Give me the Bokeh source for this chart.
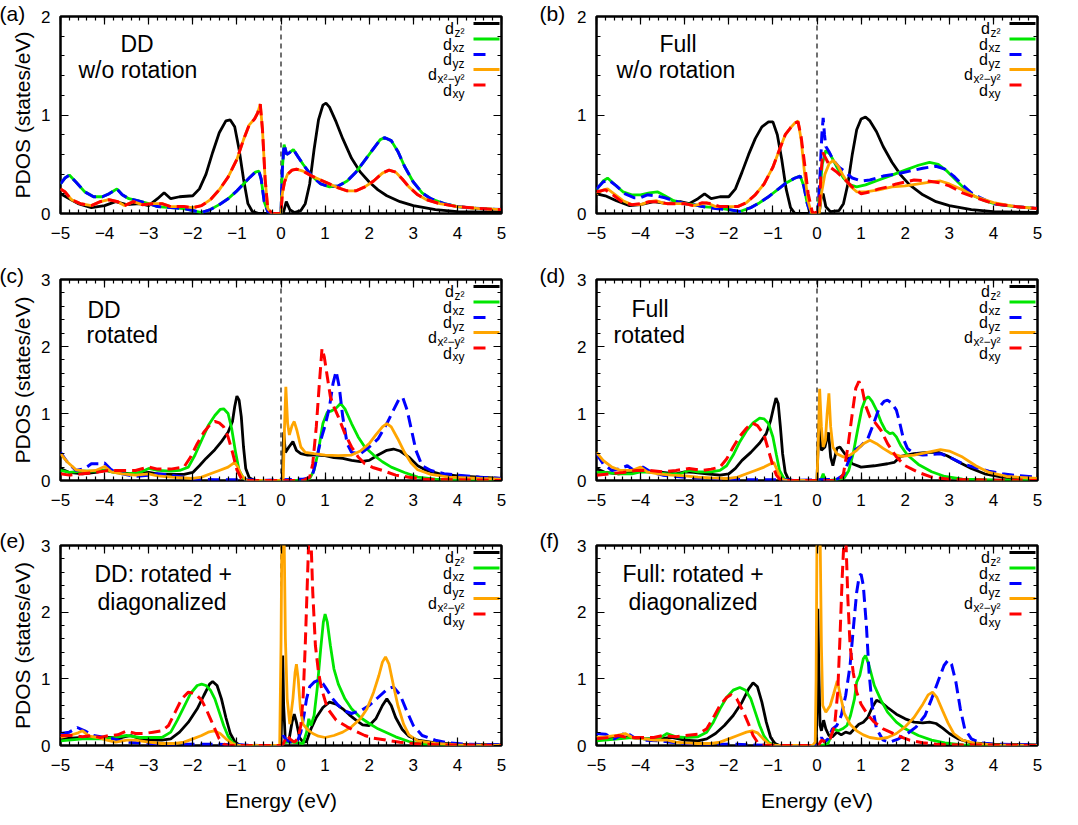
from bokeh.plotting import figure
from bokeh.layouts import column, row
from bokeh.models import FixedTicker, LinearAxis, Span, Label, Range1d
from bokeh.embed import file_html
from bokeh.resources import INLINE

FONT = "Liberation Sans"

# ---------------- data: (energy eV, PDOS states/eV) ----------------
# (a) DD, w/o rotation
a_z2 = [(-5,0.2),(-4.8,0.15),(-4.6,0.1),(-4.3,0.06),(-4.0,0.08),(-3.75,0.12),(-3.5,0.09),(-3.2,0.1),(-3.0,0.08),(-2.8,0.15),(-2.65,0.21),(-2.5,0.15),(-2.3,0.17),(-2.0,0.18),(-1.85,0.25),(-1.7,0.4),(-1.55,0.62),(-1.4,0.82),(-1.25,0.94),(-1.15,0.95),(-1.05,0.88),(-0.95,0.65),(-0.85,0.35),(-0.75,0.1),(-0.65,0.02),(-0.5,0.0),(0.05,0.0),(0.12,0.12),(0.2,0.04),(0.3,0.01),(0.45,0.03),(0.55,0.1),(0.65,0.3),(0.75,0.65),(0.85,0.95),(0.95,1.1),(1.02,1.12),(1.1,1.08),(1.25,0.93),(1.4,0.76),(1.6,0.56),(1.8,0.42),(2.0,0.32),(2.2,0.24),(2.4,0.18),(2.7,0.12),(3.0,0.08),(3.5,0.04),(4.0,0.02),(5.0,0.01)]
a_xz = [(-5,0.3),(-4.9,0.36),(-4.8,0.39),(-4.65,0.32),(-4.45,0.22),(-4.25,0.17),(-4.05,0.17),(-3.9,0.2),(-3.72,0.25),(-3.6,0.19),(-3.45,0.15),(-3.25,0.13),(-3.0,0.1),(-2.8,0.07),(-2.5,0.06),(-2.2,0.05),(-2.0,0.03),(-1.8,0.01),(-1.6,0.04),(-1.4,0.09),(-1.2,0.15),(-1.0,0.23),(-0.85,0.3),(-0.7,0.37),(-0.58,0.42),(-0.5,0.43),(-0.45,0.35),(-0.38,0.12),(-0.3,0.02),(-0.2,0.0),(0.0,0.0),(0.03,0.45),(0.07,0.7),(0.13,0.6),(0.2,0.62),(0.28,0.65),(0.38,0.58),(0.5,0.5),(0.7,0.38),(0.9,0.3),(1.1,0.27),(1.3,0.28),(1.5,0.33),(1.7,0.42),(1.9,0.54),(2.1,0.66),(2.25,0.75),(2.35,0.77),(2.5,0.74),(2.65,0.63),(2.8,0.48),(3.0,0.32),(3.2,0.21),(3.4,0.15),(3.7,0.1),(4.0,0.07),(4.5,0.05),(5.0,0.04)]
a_yz = list(a_xz)
a_x2 = [(-5,0.25),(-4.9,0.22),(-4.75,0.14),(-4.55,0.1),(-4.3,0.08),(-4.1,0.12),(-3.9,0.14),(-3.7,0.12),(-3.55,0.08),(-3.35,0.12),(-3.15,0.09),(-2.9,0.1),(-2.7,0.1),(-2.5,0.07),(-2.2,0.07),(-2.0,0.06),(-1.8,0.08),(-1.6,0.14),(-1.4,0.24),(-1.2,0.37),(-1.0,0.55),(-0.85,0.75),(-0.72,0.9),(-0.6,0.96),(-0.53,1.02),(-0.47,1.11),(-0.42,0.85),(-0.36,0.35),(-0.3,0.05),(-0.2,0.0),(0.0,0.0),(0.03,0.2),(0.08,0.32),(0.15,0.4),(0.25,0.44),(0.35,0.45),(0.5,0.43),(0.7,0.38),(0.9,0.34),(1.1,0.3),(1.3,0.26),(1.5,0.23),(1.7,0.23),(1.9,0.27),(2.1,0.33),(2.3,0.41),(2.45,0.44),(2.6,0.42),(2.75,0.35),(2.9,0.27),(3.1,0.19),(3.3,0.14),(3.6,0.1),(4.0,0.07),(4.5,0.05),(5.0,0.04)]
a_xy = list(a_x2)

# (b) Full, w/o rotation
b_z2 = [(-5,0.2),(-4.8,0.18),(-4.55,0.13),(-4.25,0.08),(-4.0,0.09),(-3.7,0.12),(-3.4,0.1),(-3.1,0.12),(-2.9,0.1),(-2.7,0.15),(-2.55,0.2),(-2.4,0.15),(-2.2,0.17),(-2.0,0.17),(-1.85,0.25),(-1.7,0.42),(-1.55,0.6),(-1.4,0.76),(-1.25,0.88),(-1.1,0.93),(-1.0,0.93),(-0.9,0.8),(-0.8,0.55),(-0.7,0.25),(-0.6,0.06),(-0.5,0.0),(0.05,0.0),(0.1,0.18),(0.14,0.2),(0.2,0.07),(0.3,0.02),(0.5,0.03),(0.6,0.1),(0.7,0.3),(0.8,0.6),(0.9,0.85),(1.0,0.96),(1.1,0.98),(1.2,0.94),(1.35,0.83),(1.5,0.68),(1.7,0.52),(1.9,0.39),(2.1,0.29),(2.4,0.19),(2.7,0.12),(3.0,0.08),(3.5,0.04),(4.0,0.02),(5.0,0.01)]
b_xz = [(-5,0.24),(-4.85,0.33),(-4.75,0.36),(-4.6,0.3),(-4.4,0.22),(-4.2,0.19),(-4.0,0.19),(-3.8,0.21),(-3.62,0.22),(-3.45,0.18),(-3.25,0.13),(-3.0,0.1),(-2.8,0.09),(-2.6,0.07),(-2.3,0.06),(-2.0,0.04),(-1.75,0.02),(-1.5,0.06),(-1.3,0.11),(-1.1,0.17),(-0.9,0.24),(-0.7,0.31),(-0.5,0.36),(-0.38,0.38),(-0.3,0.28),(-0.22,0.1),(-0.15,0.0),(0.02,0.0),(0.07,0.25),(0.12,0.5),(0.2,0.64),(0.3,0.6),(0.45,0.47),(0.6,0.36),(0.75,0.29),(0.9,0.27),(1.1,0.29),(1.4,0.34),(1.7,0.39),(2.0,0.44),(2.3,0.49),(2.55,0.52),(2.75,0.5),(2.95,0.43),(3.15,0.34),(3.35,0.25),(3.55,0.18),(3.8,0.13),(4.1,0.09),(4.5,0.07),(5.0,0.05)]
b_yz = [(-5,0.25),(-4.85,0.32),(-4.72,0.34),(-4.55,0.28),(-4.35,0.2),(-4.15,0.16),(-4.0,0.16),(-3.85,0.19),(-3.65,0.18),(-3.45,0.16),(-3.25,0.13),(-3.0,0.1),(-2.8,0.09),(-2.6,0.07),(-2.3,0.05),(-2.0,0.04),(-1.75,0.02),(-1.5,0.06),(-1.3,0.11),(-1.1,0.17),(-0.9,0.24),(-0.7,0.31),(-0.5,0.36),(-0.38,0.38),(-0.3,0.28),(-0.22,0.1),(-0.15,0.0),(0.02,0.0),(0.07,0.4),(0.11,0.8),(0.14,0.97),(0.17,0.8),(0.2,0.68),(0.27,0.63),(0.37,0.54),(0.5,0.47),(0.65,0.42),(0.8,0.36),(1.0,0.33),(1.2,0.34),(1.5,0.38),(1.8,0.4),(2.1,0.43),(2.4,0.46),(2.7,0.48),(2.9,0.45),(3.1,0.38),(3.3,0.29),(3.5,0.21),(3.7,0.16),(4.0,0.1),(4.5,0.07),(5.0,0.05)]
b_x2 = [(-5,0.2),(-4.85,0.24),(-4.75,0.25),(-4.6,0.2),(-4.4,0.13),(-4.2,0.09),(-4.0,0.09),(-3.8,0.12),(-3.65,0.13),(-3.45,0.1),(-3.2,0.1),(-3.0,0.1),(-2.8,0.08),(-2.6,0.1),(-2.5,0.11),(-2.3,0.07),(-2.0,0.07),(-1.8,0.07),(-1.6,0.11),(-1.4,0.19),(-1.2,0.3),(-1.0,0.47),(-0.85,0.65),(-0.72,0.8),(-0.6,0.87),(-0.5,0.92),(-0.43,0.94),(-0.36,0.75),(-0.28,0.4),(-0.2,0.12),(-0.12,0.0),(0.05,0.0),(0.1,0.2),(0.18,0.4),(0.28,0.51),(0.37,0.54),(0.48,0.48),(0.6,0.38),(0.75,0.28),(0.9,0.22),(1.1,0.22),(1.4,0.24),(1.7,0.27),(2.0,0.28),(2.3,0.3),(2.6,0.32),(2.8,0.33),(3.0,0.3),(3.3,0.24),(3.6,0.17),(4.0,0.11),(4.5,0.07),(5.0,0.05)]
b_xy = [(-5,0.22),(-4.8,0.24),(-4.6,0.18),(-4.4,0.11),(-4.2,0.09),(-4.0,0.1),(-3.8,0.12),(-3.6,0.12),(-3.4,0.1),(-3.2,0.1),(-3.0,0.1),(-2.8,0.08),(-2.6,0.11),(-2.4,0.1),(-2.2,0.07),(-2.0,0.07),(-1.8,0.07),(-1.6,0.11),(-1.4,0.19),(-1.2,0.3),(-1.0,0.47),(-0.85,0.65),(-0.72,0.8),(-0.6,0.87),(-0.5,0.92),(-0.43,0.93),(-0.36,0.78),(-0.28,0.5),(-0.2,0.2),(-0.1,0.0),(0.05,0.02),(0.09,0.4),(0.13,0.62),(0.2,0.56),(0.3,0.47),(0.45,0.42),(0.6,0.36),(0.8,0.27),(1.0,0.2),(1.2,0.22),(1.4,0.25),(1.6,0.27),(1.8,0.3),(2.0,0.32),(2.2,0.34),(2.5,0.33),(2.8,0.31),(3.0,0.28),(3.3,0.21),(3.6,0.16),(4.0,0.1),(4.5,0.07),(5.0,0.05)]

# (c) DD, rotated
c_z2 = [(-5,0.18),(-4.8,0.12),(-4.5,0.1),(-4.2,0.12),(-4.0,0.15),(-3.7,0.12),(-3.4,0.1),(-3.0,0.12),(-2.8,0.1),(-2.5,0.09),(-2.2,0.09),(-2.0,0.12),(-1.85,0.22),(-1.7,0.33),(-1.5,0.46),(-1.35,0.58),(-1.2,0.72),(-1.1,0.88),(-1.05,1.1),(-1.0,1.26),(-0.95,1.2),(-0.9,0.95),(-0.85,0.5),(-0.8,0.18),(-0.72,0.04),(-0.6,0.0),(0.03,0.0),(0.06,0.72),(0.1,0.42),(0.18,0.5),(0.27,0.58),(0.35,0.45),(0.45,0.4),(0.6,0.38),(0.8,0.38),(1.0,0.37),(1.2,0.34),(1.4,0.33),(1.6,0.3),(1.8,0.28),(2.0,0.3),(2.2,0.38),(2.4,0.45),(2.55,0.47),(2.7,0.44),(2.9,0.35),(3.1,0.22),(3.3,0.15),(3.6,0.1),(4.0,0.07),(4.5,0.05),(5.0,0.03)]
c_xz = [(-5,0.15),(-4.8,0.12),(-4.5,0.14),(-4.2,0.14),(-4.0,0.16),(-3.8,0.12),(-3.5,0.1),(-3.2,0.12),(-3.0,0.18),(-2.8,0.15),(-2.5,0.14),(-2.3,0.15),(-2.1,0.2),(-1.95,0.38),(-1.8,0.6),(-1.65,0.82),(-1.5,0.97),(-1.38,1.06),(-1.3,1.07),(-1.2,1.0),(-1.12,0.78),(-1.03,0.42),(-0.95,0.15),(-0.85,0.03),(-0.75,0.0),(0.55,0.0),(0.65,0.03),(0.75,0.15),(0.85,0.45),(0.95,0.85),(1.05,1.02),(1.15,1.04),(1.25,1.08),(1.35,1.15),(1.45,1.07),(1.6,0.85),(1.75,0.65),(1.9,0.5),(2.1,0.38),(2.3,0.28),(2.5,0.2),(2.8,0.12),(3.1,0.05),(3.5,0.02),(4.0,0.01),(5.0,0.0)]
c_yz = [(-5,0.42),(-4.85,0.28),(-4.65,0.15),(-4.45,0.18),(-4.3,0.25),(-4.1,0.25),(-4.0,0.26),(-3.85,0.16),(-3.6,0.1),(-3.3,0.06),(-3.0,0.08),(-2.8,0.1),(-2.5,0.08),(-2.2,0.05),(-2.0,0.02),(-1.5,0.01),(-0.7,0.01),(-0.5,0.0),(0.5,0.02),(0.7,0.05),(0.8,0.3),(0.9,0.6),(1.0,0.82),(1.1,1.1),(1.18,1.45),(1.25,1.63),(1.32,1.4),(1.4,0.95),(1.5,0.55),(1.6,0.42),(1.8,0.4),(2.0,0.5),(2.2,0.62),(2.4,0.85),(2.55,1.05),(2.68,1.22),(2.76,1.24),(2.86,1.05),(2.96,0.75),(3.06,0.45),(3.2,0.22),(3.4,0.15),(3.7,0.1),(4.0,0.08),(4.5,0.05),(5.0,0.03)]
c_x2 = [(-5,0.4),(-4.85,0.28),(-4.65,0.16),(-4.4,0.14),(-4.2,0.15),(-4.0,0.21),(-3.85,0.13),(-3.6,0.1),(-3.3,0.08),(-3.0,0.1),(-2.8,0.07),(-2.5,0.05),(-2.2,0.04),(-2.0,0.03),(-1.8,0.05),(-1.6,0.1),(-1.4,0.15),(-1.2,0.2),(-1.05,0.27),(-0.98,0.2),(-0.9,0.08),(-0.8,0.01),(-0.7,0.0),(0.05,0.0),(0.08,0.8),(0.11,1.4),(0.15,0.85),(0.19,0.68),(0.25,0.82),(0.3,0.88),(0.36,0.75),(0.45,0.5),(0.55,0.42),(0.75,0.4),(1.0,0.38),(1.3,0.37),(1.6,0.38),(1.8,0.44),(2.0,0.55),(2.15,0.68),(2.3,0.8),(2.4,0.85),(2.5,0.8),(2.65,0.62),(2.8,0.42),(2.95,0.26),(3.1,0.16),(3.4,0.09),(3.8,0.05),(4.5,0.03),(5.0,0.02)]
c_xy = [(-5,0.1),(-4.8,0.08),(-4.5,0.1),(-4.2,0.12),(-3.9,0.15),(-3.6,0.15),(-3.3,0.15),(-3.0,0.2),(-2.8,0.17),(-2.5,0.17),(-2.2,0.2),(-2.05,0.35),(-1.9,0.55),(-1.75,0.72),(-1.6,0.84),(-1.5,0.88),(-1.4,0.86),(-1.3,0.8),(-1.2,0.65),(-1.1,0.42),(-1.0,0.16),(-0.9,0.03),(-0.8,0.0),(0.5,0.0),(0.65,0.05),(0.72,0.25),(0.8,0.8),(0.87,1.45),(0.93,1.97),(0.98,1.85),(1.05,1.55),(1.12,1.25),(1.2,1.1),(1.3,0.95),(1.45,0.7),(1.6,0.5),(1.75,0.35),(1.9,0.25),(2.1,0.19),(2.3,0.15),(2.6,0.08),(2.9,0.05),(3.2,0.02),(4.0,0.01),(5.0,0.0)]

# (d) Full, rotated
d_z2 = [(-5,0.18),(-4.8,0.12),(-4.5,0.1),(-4.2,0.12),(-4.0,0.15),(-3.8,0.13),(-3.5,0.12),(-3.2,0.1),(-3.0,0.13),(-2.8,0.12),(-2.5,0.1),(-2.2,0.08),(-2.0,0.1),(-1.85,0.18),(-1.7,0.3),(-1.5,0.42),(-1.3,0.56),(-1.15,0.7),(-1.05,0.9),(-0.98,1.1),(-0.93,1.23),(-0.88,1.15),(-0.83,0.8),(-0.78,0.4),(-0.72,0.12),(-0.65,0.02),(-0.55,0.0),(0.0,0.0),(0.04,0.85),(0.1,0.45),(0.18,0.5),(0.26,0.72),(0.31,0.35),(0.36,0.22),(0.45,0.48),(0.52,0.5),(0.65,0.38),(0.8,0.25),(1.0,0.2),(1.3,0.22),(1.6,0.25),(1.75,0.27),(1.9,0.36),(2.2,0.4),(2.5,0.42),(2.75,0.42),(2.95,0.37),(3.2,0.28),(3.5,0.18),(3.8,0.1),(4.2,0.05),(4.6,0.03),(5.0,0.02)]
d_xz = [(-5,0.12),(-4.8,0.12),(-4.5,0.1),(-4.2,0.1),(-4.0,0.13),(-3.7,0.12),(-3.4,0.1),(-3.1,0.1),(-2.9,0.15),(-2.7,0.13),(-2.4,0.13),(-2.2,0.15),(-2.05,0.22),(-1.9,0.38),(-1.75,0.58),(-1.6,0.74),(-1.45,0.86),(-1.3,0.93),(-1.2,0.92),(-1.1,0.85),(-1.0,0.65),(-0.92,0.38),(-0.85,0.15),(-0.75,0.03),(-0.65,0.0),(0.05,0.0),(0.1,0.03),(0.14,0.1),(0.18,0.02),(0.3,0.0),(0.5,0.02),(0.62,0.04),(0.72,0.15),(0.82,0.4),(0.92,0.75),(1.02,1.08),(1.1,1.22),(1.17,1.25),(1.25,1.18),(1.35,1.05),(1.45,0.88),(1.55,0.75),(1.65,0.7),(1.72,0.71),(1.8,0.65),(1.9,0.52),(2.05,0.38),(2.3,0.24),(2.6,0.13),(2.9,0.06),(3.3,0.02),(4.0,0.01),(5.0,0.0)]
d_yz = [(-5,0.4),(-4.85,0.25),(-4.65,0.15),(-4.45,0.18),(-4.3,0.22),(-4.15,0.15),(-3.95,0.2),(-3.75,0.12),(-3.5,0.08),(-3.0,0.05),(-2.5,0.03),(-2.0,0.02),(-1.5,0.01),(-0.7,0.01),(-0.5,0.0),(0.45,0.02),(0.6,0.08),(0.72,0.3),(0.85,0.45),(1.0,0.52),(1.15,0.62),(1.3,0.88),(1.42,1.1),(1.52,1.18),(1.6,1.2),(1.7,1.15),(1.8,1.05),(1.88,0.85),(1.96,0.62),(2.05,0.48),(2.2,0.4),(2.4,0.38),(2.6,0.39),(2.8,0.4),(3.0,0.35),(3.3,0.25),(3.6,0.19),(3.9,0.14),(4.2,0.1),(4.6,0.07),(5.0,0.05)]
d_x2 = [(-5,0.42),(-4.85,0.3),(-4.65,0.2),(-4.45,0.15),(-4.2,0.15),(-4.0,0.2),(-3.85,0.13),(-3.6,0.1),(-3.3,0.08),(-3.0,0.07),(-2.7,0.05),(-2.4,0.04),(-2.0,0.03),(-1.8,0.05),(-1.6,0.1),(-1.4,0.15),(-1.2,0.2),(-1.05,0.25),(-0.98,0.27),(-0.9,0.15),(-0.82,0.03),(-0.7,0.0),(0.0,0.0),(0.03,0.6),(0.06,1.37),(0.1,0.8),(0.14,0.5),(0.19,0.6),(0.23,1.0),(0.27,1.3),(0.31,0.8),(0.36,0.5),(0.45,0.4),(0.6,0.35),(0.75,0.38),(0.9,0.45),(1.05,0.55),(1.2,0.6),(1.35,0.55),(1.5,0.48),(1.7,0.4),(1.9,0.36),(2.2,0.38),(2.5,0.42),(2.8,0.46),(3.0,0.44),(3.3,0.35),(3.6,0.22),(3.9,0.12),(4.3,0.06),(5.0,0.03)]
d_xy = [(-5,0.08),(-4.7,0.1),(-4.4,0.12),(-4.1,0.15),(-3.8,0.15),(-3.5,0.13),(-3.2,0.15),(-2.9,0.18),(-2.6,0.15),(-2.4,0.17),(-2.2,0.2),(-2.05,0.32),(-1.9,0.5),(-1.75,0.66),(-1.6,0.78),(-1.47,0.86),(-1.35,0.82),(-1.2,0.68),(-1.1,0.45),(-1.0,0.22),(-0.92,0.08),(-0.85,0.02),(-0.7,0.0),(0.5,0.0),(0.6,0.1),(0.7,0.5),(0.8,1.0),(0.88,1.38),(0.95,1.48),(1.02,1.38),(1.1,1.12),(1.2,0.95),(1.3,0.88),(1.45,0.75),(1.6,0.55),(1.8,0.35),(2.0,0.22),(2.3,0.12),(2.6,0.05),(3.0,0.02),(3.5,0.01),(5.0,0.0)]

# (e) DD, rotated + diagonalized
e_z2 = [(-5,0.1),(-4.5,0.12),(-4.0,0.12),(-3.6,0.12),(-3.4,0.15),(-3.2,0.1),(-3.0,0.08),(-2.7,0.08),(-2.5,0.1),(-2.3,0.2),(-2.1,0.35),(-1.9,0.55),(-1.75,0.75),(-1.62,0.92),(-1.55,0.96),(-1.45,0.9),(-1.35,0.7),(-1.25,0.42),(-1.15,0.18),(-1.05,0.06),(-0.95,0.01),(-0.85,0.0),(0.0,0.0),(0.02,0.6),(0.04,1.35),(0.06,0.6),(0.1,0.05),(0.18,0.08),(0.25,0.35),(0.3,0.47),(0.35,0.35),(0.42,0.12),(0.5,0.05),(0.58,0.06),(0.68,0.25),(0.8,0.42),(0.95,0.57),(1.1,0.65),(1.25,0.62),(1.4,0.55),(1.55,0.46),(1.7,0.38),(1.85,0.31),(2.0,0.3),(2.15,0.4),(2.3,0.6),(2.4,0.7),(2.5,0.6),(2.6,0.42),(2.75,0.24),(2.9,0.14),(3.1,0.08),(3.5,0.04),(4.0,0.02),(5.0,0.01)]
e_xz = [(-5,0.07),(-4.5,0.1),(-4.0,0.1),(-3.5,0.15),(-3.2,0.12),(-3.0,0.12),(-2.7,0.12),(-2.5,0.2),(-2.35,0.38),(-2.2,0.58),(-2.05,0.78),(-1.9,0.9),(-1.8,0.92),(-1.7,0.9),(-1.6,0.83),(-1.5,0.7),(-1.4,0.5),(-1.3,0.3),(-1.2,0.14),(-1.1,0.05),(-1.0,0.01),(-0.9,0.0),(0.0,0.0),(0.1,0.05),(0.25,0.05),(0.4,0.04),(0.5,0.03),(0.58,0.2),(0.63,0.4),(0.68,0.3),(0.75,0.45),(0.82,0.85),(0.9,1.45),(0.96,1.85),(1.0,1.97),(1.05,1.85),(1.12,1.5),(1.2,1.15),(1.3,0.92),(1.45,0.7),(1.6,0.55),(1.8,0.42),(2.0,0.33),(2.2,0.25),(2.4,0.19),(2.6,0.13),(2.9,0.06),(3.2,0.02),(3.6,0.01),(5.0,0.0)]
e_yz = [(-5,0.18),(-4.8,0.2),(-4.62,0.27),(-4.45,0.22),(-4.25,0.15),(-4.0,0.12),(-3.8,0.1),(-3.5,0.05),(-3.0,0.03),(-2.5,0.02),(-2.0,0.02),(-1.5,0.02),(-1.0,0.01),(-0.5,0.0),(0.0,0.0),(0.05,0.15),(0.1,0.1),(0.2,0.05),(0.38,0.08),(0.45,0.2),(0.52,0.45),(0.58,0.7),(0.65,0.88),(0.75,0.95),(0.85,0.98),(0.95,0.93),(1.05,0.83),(1.15,0.72),(1.3,0.6),(1.45,0.52),(1.6,0.48),(1.8,0.52),(2.0,0.6),(2.2,0.72),(2.4,0.84),(2.55,0.88),(2.7,0.76),(2.85,0.52),(3.0,0.3),(3.2,0.15),(3.5,0.08),(3.8,0.04),(4.2,0.02),(5.0,0.01)]
e_x2 = [(-5,0.12),(-4.8,0.15),(-4.6,0.19),(-4.5,0.22),(-4.35,0.14),(-4.15,0.12),(-3.95,0.08),(-3.75,0.05),(-3.5,0.08),(-3.3,0.08),(-3.0,0.05),(-2.7,0.03),(-2.4,0.03),(-2.2,0.05),(-2.0,0.1),(-1.8,0.15),(-1.65,0.2),(-1.52,0.22),(-1.38,0.18),(-1.25,0.1),(-1.1,0.03),(-0.95,0.0),(-0.03,0.0),(0.0,1.5),(0.02,3.2),(0.07,3.2),(0.1,1.6),(0.14,0.7),(0.2,0.32),(0.27,0.7),(0.32,1.1),(0.35,1.22),(0.39,1.0),(0.44,0.55),(0.5,0.32),(0.6,0.24),(0.72,0.18),(0.85,0.14),(1.0,0.12),(1.2,0.15),(1.4,0.2),(1.6,0.28),(1.8,0.4),(1.95,0.55),(2.1,0.8),(2.22,1.05),(2.3,1.25),(2.37,1.33),(2.45,1.22),(2.55,0.9),(2.65,0.6),(2.78,0.32),(2.9,0.16),(3.1,0.07),(3.5,0.03),(4.0,0.01),(5.0,0.0)]
e_xy = [(-5,0.15),(-4.7,0.15),(-4.5,0.13),(-4.3,0.15),(-4.1,0.12),(-3.9,0.15),(-3.7,0.16),(-3.5,0.22),(-3.3,0.18),(-3.1,0.18),(-2.9,0.2),(-2.7,0.22),(-2.55,0.3),(-2.4,0.5),(-2.25,0.7),(-2.1,0.8),(-1.95,0.78),(-1.8,0.68),(-1.7,0.55),(-1.6,0.4),(-1.5,0.25),(-1.4,0.1),(-1.3,0.02),(-1.2,0.0),(0.0,0.0),(0.05,0.02),(0.1,0.1),(0.15,0.15),(0.2,0.1),(0.3,0.05),(0.38,0.1),(0.45,0.3),(0.5,0.7),(0.55,1.5),(0.6,2.5),(0.64,3.3),(0.68,3.1),(0.72,2.3),(0.78,1.5),(0.85,1.1),(0.92,0.85),(1.05,0.56),(1.25,0.38),(1.5,0.28),(1.7,0.21),(1.9,0.15),(2.1,0.11),(2.4,0.08),(2.7,0.05),(3.0,0.03),(3.5,0.01),(5.0,0.0)]

# (f) Full, rotated + diagonalized
f_z2 = [(-5,0.1),(-4.5,0.12),(-4.2,0.12),(-3.9,0.1),(-3.6,0.1),(-3.3,0.12),(-3.0,0.08),(-2.7,0.07),(-2.5,0.1),(-2.3,0.18),(-2.1,0.3),(-1.9,0.45),(-1.7,0.65),(-1.55,0.85),(-1.45,0.94),(-1.35,0.88),(-1.25,0.65),(-1.15,0.35),(-1.05,0.12),(-0.95,0.03),(-0.85,0.0),(-0.02,0.0),(0.0,0.5),(0.02,2.05),(0.04,1.2),(0.07,0.3),(0.1,0.22),(0.15,0.38),(0.2,0.25),(0.27,0.15),(0.35,0.13),(0.45,0.2),(0.55,0.16),(0.65,0.2),(0.75,0.18),(0.85,0.25),(0.95,0.32),(1.05,0.35),(1.15,0.42),(1.25,0.57),(1.35,0.68),(1.45,0.65),(1.6,0.57),(1.8,0.47),(2.0,0.4),(2.2,0.35),(2.4,0.34),(2.55,0.35),(2.7,0.33),(2.85,0.26),(3.0,0.18),(3.2,0.1),(3.5,0.04),(4.0,0.02),(5.0,0.01)]
f_xz = [(-5,0.07),(-4.5,0.1),(-4.2,0.12),(-3.9,0.1),(-3.6,0.1),(-3.4,0.18),(-3.2,0.13),(-3.0,0.12),(-2.7,0.13),(-2.5,0.2),(-2.35,0.35),(-2.2,0.55),(-2.05,0.72),(-1.9,0.83),(-1.75,0.87),(-1.62,0.83),(-1.5,0.7),(-1.4,0.5),(-1.3,0.3),(-1.2,0.14),(-1.1,0.05),(-1.0,0.01),(-0.9,0.0),(0.1,0.0),(0.25,0.03),(0.32,0.15),(0.38,0.25),(0.48,0.22),(0.58,0.25),(0.68,0.3),(0.76,0.45),(0.85,0.7),(0.9,0.95),(0.97,1.05),(1.05,1.3),(1.1,1.35),(1.18,1.2),(1.3,0.9),(1.45,0.68),(1.6,0.5),(1.8,0.35),(2.0,0.25),(2.3,0.15),(2.6,0.08),(2.9,0.04),(3.3,0.01),(5.0,0.0)]
f_yz = [(-5,0.18),(-4.8,0.17),(-4.6,0.1),(-4.45,0.15),(-4.33,0.2),(-4.15,0.12),(-3.9,0.08),(-3.6,0.07),(-3.3,0.05),(-3.0,0.03),(-2.5,0.02),(-2.0,0.02),(-1.5,0.01),(-1.0,0.0),(0.0,0.0),(0.05,0.05),(0.1,0.12),(0.17,0.05),(0.25,0.1),(0.35,0.25),(0.45,0.3),(0.55,0.45),(0.65,0.75),(0.75,1.2),(0.83,1.8),(0.9,2.3),(0.96,2.55),(1.0,2.57),(1.05,2.4),(1.12,1.8),(1.18,1.1),(1.25,0.6),(1.35,0.25),(1.5,0.08),(1.65,0.05),(1.85,0.1),(2.05,0.18),(2.25,0.28),(2.45,0.45),(2.6,0.7),(2.75,0.97),(2.88,1.2),(2.97,1.28),(3.05,1.22),(3.15,0.95),(3.25,0.55),(3.35,0.25),(3.5,0.1),(3.7,0.04),(4.0,0.02),(5.0,0.01)]
f_x2 = [(-5,0.12),(-4.8,0.13),(-4.55,0.15),(-4.35,0.18),(-4.15,0.11),(-3.9,0.1),(-3.7,0.08),(-3.4,0.08),(-3.2,0.05),(-3.0,0.04),(-2.7,0.03),(-2.4,0.03),(-2.2,0.05),(-2.0,0.1),(-1.8,0.15),(-1.6,0.2),(-1.47,0.22),(-1.35,0.19),(-1.22,0.1),(-1.1,0.03),(-0.95,0.0),(-0.1,0.0),(-0.04,0.05),(-0.02,1.0),(0.0,3.2),(0.07,3.2),(0.1,1.5),(0.13,0.6),(0.2,0.5),(0.3,0.6),(0.38,0.78),(0.46,0.97),(0.53,0.75),(0.62,0.48),(0.75,0.32),(0.9,0.22),(1.05,0.16),(1.2,0.12),(1.4,0.1),(1.6,0.12),(1.8,0.18),(2.0,0.28),(2.2,0.42),(2.4,0.62),(2.52,0.76),(2.62,0.8),(2.72,0.72),(2.85,0.52),(2.97,0.34),(3.1,0.18),(3.3,0.08),(3.6,0.03),(4.0,0.01),(5.0,0.0)]
f_xy = [(-5,0.1),(-4.7,0.12),(-4.5,0.15),(-4.3,0.12),(-4.0,0.12),(-3.7,0.12),(-3.5,0.15),(-3.2,0.13),(-3.0,0.15),(-2.7,0.17),(-2.5,0.25),(-2.35,0.42),(-2.2,0.6),(-2.05,0.72),(-1.95,0.76),(-1.82,0.7),(-1.68,0.52),(-1.55,0.32),(-1.45,0.15),(-1.35,0.05),(-1.25,0.01),(-1.15,0.0),(0.0,0.0),(0.05,0.02),(0.1,0.08),(0.2,0.05),(0.3,0.1),(0.4,0.3),(0.47,0.8),(0.52,1.6),(0.57,2.5),(0.62,3.2),(0.66,3.0),(0.7,2.2),(0.75,1.5),(0.82,1.1),(0.9,0.8),(1.0,0.62),(1.15,0.46),(1.3,0.35),(1.5,0.25),(1.7,0.19),(1.9,0.13),(2.1,0.08),(2.4,0.04),(2.7,0.02),(3.0,0.01),(5.0,0.0)]

# labels
X_TICKS = [-5, -4, -3, -2, -1, 0, 1, 2, 3, 4, 5]
ORBITAL_SUBS = ["z\u00b2", "xz", "yz", "x\u00b2\u2212y\u00b2", "xy"]
ORBITAL_COLORS = ["#000000", "#00e600", "#0000ff", "#ffa500", "#ff0000"]
ORBITAL_DASH = [None, None, "12 6", None, "12 6"]
X_LABEL = "Energy (eV)"
Y_LABEL = "PDOS (states/eV)"

PANELS = [
    ("(a)", [a_z2, a_xz, a_yz, a_x2, a_xy], 2, [("DD", 60, 27), ("w/o rotation", 18, 53)]),
    ("(b)", [b_z2, b_xz, b_yz, b_x2, b_xy], 2, [("Full", 63, 27), ("w/o rotation", 20, 53)]),
    ("(c)", [c_z2, c_xz, c_yz, c_x2, c_xy], 3, [("DD", 27, 30), ("rotated", 26, 55)]),
    ("(d)", [d_z2, d_xz, d_yz, d_x2, d_xy], 3, [("Full", 35, 29), ("rotated", 17, 55)]),
    ("(e)", [e_z2, e_xz, e_yz, e_x2, e_xy], 3, [("DD: rotated +", 34, 28), ("diagonalized", 37, 56)]),
    ("(f)", [f_z2, f_xz, f_yz, f_x2, f_xy], 3, [("Full: rotated +", 26, 28), ("diagonalized", 32, 56)]),
]

# ---------------- layout constants ----------------
FW = 441
FH = [197, 201, 200]
ROW_TOP = [16, 30, 29]
ROW_BOT = [36, 36, 74]
COL_LEFT = [60, 65]
COL_RIGHT = [30, 20]
TAG_DX = [-61, -57]
TAG_DY = [-3, -4, -5]
# side panel that carries the panel tag (a side panel with spare room, so the frame does not move)
TAG_SIDE = [["right", "left"], ["above", "above"], ["above", "above"]]
LEG_Y = [7, 22.5, 38, 53, 68.5]
SUB_PX = 12
EM = {"x": 0.5, "y": 0.5, "z": 0.5, "\u00b2": 0.333, "\u2212": 0.584}


def style_axis(ax, show_labels=True):
    ax.axis_line_color = None
    ax.major_tick_in = 8
    ax.major_tick_out = 0
    ax.minor_tick_in = 4
    ax.minor_tick_out = 0
    ax.major_tick_line_width = 1.2
    ax.minor_tick_line_width = 1.2
    ax.major_tick_line_color = "black"
    ax.minor_tick_line_color = "black"
    ax.major_label_text_font = FONT
    if show_labels:
        ax.major_label_text_color = "black"
        ax.major_label_text_font_size = "17px"
        ax.major_label_standoff = 10
    else:
        ax.major_label_text_color = None
        ax.major_label_text_font_size = "1px"
        ax.major_label_standoff = 0
    ax.axis_label_text_font = FONT
    ax.axis_label_text_font_size = "21px"
    ax.axis_label_text_font_style = "normal"
    ax.axis_label_text_color = "black"


def make_panel(idx):
    tag, curves, ymax, notes = PANELS[idx]
    r, c = idx // 2, idx % 2
    fh = FH[r]
    p = figure(frame_width=FW, frame_height=fh,
               x_range=Range1d(-5, 5), y_range=Range1d(0, ymax),
               output_backend="svg", toolbar_location=None,
               min_border_left=COL_LEFT[c], min_border_right=COL_RIGHT[c],
               min_border_top=ROW_TOP[r], min_border_bottom=ROW_BOT[r])
    p.xgrid.visible = False
    p.ygrid.visible = False
    p.outline_line_color = "black"
    p.outline_line_width = 2.5
    p.background_fill_color = "white"
    p.border_fill_color = "white"

    yticks = list(range(ymax + 1))
    yminor = [round(0.2 * i, 2) for i in range(int(ymax * 5) + 1)]
    xminor = [round(-5 + 0.2 * i, 2) for i in range(51)]
    xt = FixedTicker(ticks=X_TICKS, minor_ticks=xminor)
    yt = FixedTicker(ticks=yticks, minor_ticks=yminor)

    xa = p.xaxis[0]
    xa.ticker = xt
    style_axis(xa)
    xa.major_label_standoff = 13
    xa.major_label_overrides = {v: ("\u2212%d" % -v if v < 0 else "%d" % v) for v in X_TICKS}
    if r == 2:
        xa.axis_label = X_LABEL
        xa.axis_label_standoff = 15
    ya = p.yaxis[0]
    ya.ticker = yt
    style_axis(ya)
    if c == 0:
        ya.axis_label = Y_LABEL
        ya.axis_label_standoff = 4

    top = LinearAxis(ticker=xt)
    style_axis(top, False)
    p.add_layout(top, "above")
    right = LinearAxis(ticker=yt)
    style_axis(right, False)
    p.add_layout(right, "right")

    p.add_layout(Span(location=0, dimension="height", line_color="#222222",
                      line_dash="5 4", line_width=1.3, level="underlay"))

    def to_data(dx, dy):
        return -5 + 10.0 * dx / FW, ymax * (1 - dy / fh)

    for pts, col, dash in zip(curves, ORBITAL_COLORS, ORBITAL_DASH):
        xs = [q[0] for q in pts]
        ys = [q[1] for q in pts]
        if dash:
            p.line(xs, ys, line_color=col, line_width=3, line_dash=dash)
        else:
            p.line(xs, ys, line_color=col, line_width=2.8)

    # legend (gnuplot style, top right)
    for i, (sub, col, dash) in enumerate(zip(ORBITAL_SUBS, ORBITAL_COLORS, ORBITAL_DASH)):
        ly = LEG_Y[i]
        x0, y0 = to_data(FW - 28, ly)
        x1, _ = to_data(FW - 2 if dash is None else FW - 16, ly)
        p.line([x0, x1], [y0, y0], line_color=col, line_width=3)
        sx, sy = to_data(FW - 37, ly + 9)
        p.add_layout(Label(x=sx, y=sy, text=sub, text_align="right", text_baseline="alphabetic",
                           text_font=FONT, text_font_size="%dpx" % SUB_PX, text_color="black"))
        w = sum(EM.get(ch, 0.5) for ch in sub) * SUB_PX
        dx, dy = to_data(FW - 37 - w - 0.5, ly + 5)
        p.add_layout(Label(x=dx, y=dy, text="d", text_align="right", text_baseline="alphabetic",
                           text_font=FONT, text_font_size="16px", text_color="black"))

    # panel notes
    for txt, nx, ny in notes:
        tx, ty = to_data(nx, ny)
        p.add_layout(Label(x=tx, y=ty, text=txt, text_align="left", text_baseline="middle",
                           text_font=FONT, text_font_size="23px", text_color="black"))
    # panel tag lies outside the frame: a label in a side panel is not clipped to the frame
    tx, ty = to_data(TAG_DX[c], TAG_DY[r])
    p.add_layout(Label(x=tx, y=ty, text=tag, text_align="left", text_baseline="middle",
                       text_font=FONT, text_font_size="21px", text_color="black"), TAG_SIDE[r][c])
    return p


figs = [make_panel(i) for i in range(6)]
layout = column(row(figs[0], figs[1]), row(figs[2], figs[3]), row(figs[4], figs[5]))

with open("out.html", "w") as f:
    f.write(file_html(layout, INLINE))
